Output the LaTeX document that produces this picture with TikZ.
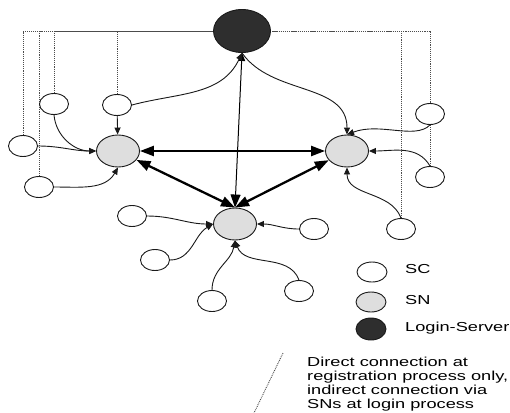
\documentclass[tikz,border=0pt]{standalone}
\usepackage{fontspec}
\setmainfont{Liberation Sans}[FakeStretch=1.4]
\usepackage{tikz}
\usetikzlibrary{shapes.geometric, arrows.meta, positioning, backgrounds}
\usepackage{xcolor}

\begin{document}
\begin{tikzpicture}[x=1pt, y=1pt,
    sc/.style={draw=black!90, ellipse, fill=white, line width=0.9pt, inner sep=0pt, minimum width=29pt, minimum height=21pt},
    sn/.style={sc, fill=black!13, minimum width=43pt, minimum height=32pt},
    server/.style={sc, fill=black!82, minimum width=57pt, minimum height=43pt},
    link/.style={draw=black!90, line width=0.9pt, -{Triangle[length=7pt, width=6pt]}},
    trunk/.style={line width=2.3pt, {Triangle[length=14pt, width=10pt]}-{Triangle[length=14pt, width=10pt]}},
    poll/.style={line width=1pt, {Triangle[length=13pt, width=10pt]}-{Triangle[length=8pt, width=7pt]}},
    reg/.style={densely dotted, line width=0.9pt, black!70},
    txt/.style={font=\fontsize{13}{14}\selectfont, inner sep=0pt, align=left}]
    \useasboundingbox (0,0) rectangle (510,-412);

    % login server and service nodes
    \node[server] (ls) at (242,-31) {};
    \node[sn] (snl) at (118,-151) {};
    \node[sn] (snr) at (347,-151) {};
    \node[sn] (snb) at (235,-224) {};

    % clients
    \node[sc] (l1) at (54,-104) {};
    \node[sc] (l2) at (117,-105) {};
    \node[sc] (l3) at (23,-146) {};
    \node[sc] (l4) at (39,-187) {};
    \node[sc] (r1) at (430,-114) {};
    \node[sc] (r2) at (430,-177) {};
    \node[sc] (r3) at (401,-229) {};
    \node[sc] (b1) at (132,-216) {};
    \node[sc] (b2) at (155,-260) {};
    \node[sc] (b3) at (314,-229) {};
    \node[sc] (b4) at (212,-301) {};
    \node[sc] (b5) at (299,-291) {};

    % registration lines
    \begin{scope}[on background layer]
        \draw[reg] (l3.north) |- (ls.west);
        \draw[reg] (l4.north) |- (ls.west);
        \draw[reg] (l1.north) |- (ls.west);
        \draw[reg] (l2.north) |- (ls.west);
        \draw[reg] (r2.north) |- (ls.east);
        \draw[reg] (r3.north) |- (ls.east);
    \end{scope}

    \draw[trunk] (snl) -- (snr);
    \draw[trunk] (snl) -- (snb.north);
    \draw[trunk] (snr) -- (snb.north);
    \draw[poll] (snb.north) -- (ls.south);

    \draw[link] (l2) -- (snl);
    \draw[link] (l1.south) to[out=-85, in=180] (snl.west);
    \draw[link] (l3.east) to[out=0, in=180] (snl.west);
    \draw[link] (l4.east) to[out=0, in=-120] (snl.south);
    \draw[link] (l2.east) to[out=15, in=-115] (ls.south);
    \draw[link] (ls.south) to[out=-55, in=90] (snr.north);

    \draw[link] (r1.south) .. controls (415,-140) and (380,-122) .. (snr.north);
    \draw[link] (r2.north) to[out=120, in=0] (snr.east);
    \draw[link] (r3.north) to[out=110, in=-90] (snr.south);

    \draw[link] (b1.east) to[out=0, in=180] (snb.west);
    \draw[link] (b2.east) to[out=0, in=-150] (snb.west);
    \draw[link] (b3.west) to[out=180, in=0] (snb.east);
    \draw[link] (b4.north) to[out=90, in=-100] (snb.south);
    \draw[link] (b5.north) to[out=110, in=-70] (snb.south);

    % legend
    \node[sc, minimum width=30pt, minimum height=20pt] (keysc) at (372,-272) {};
    \node[txt, anchor=west] (keysctext) at (405,-269.5) {SC};
    \node[sn, minimum width=30pt, minimum height=20pt] (keysn) at (371,-302) {};
    \node[txt, anchor=west] (keysntext) at (405,-300.5) {SN};
    \node[server, minimum width=30pt, minimum height=22pt] (keyls) at (371,-329) {};
    \node[txt, anchor=west] (keylstext) at (405,-328.5) {Login-Server};

    \coordinate (slashtop) at (283,-353);
    \coordinate (slashend) at (254,-413);
    \draw[reg] (slashtop) -- (slashend);
    \node[txt, anchor=north west] (note) at (307,-356.5) {Direct connection at\\registration process only,\\indirect connection via\\SNs at login process};
\end{tikzpicture}
\end{document}
